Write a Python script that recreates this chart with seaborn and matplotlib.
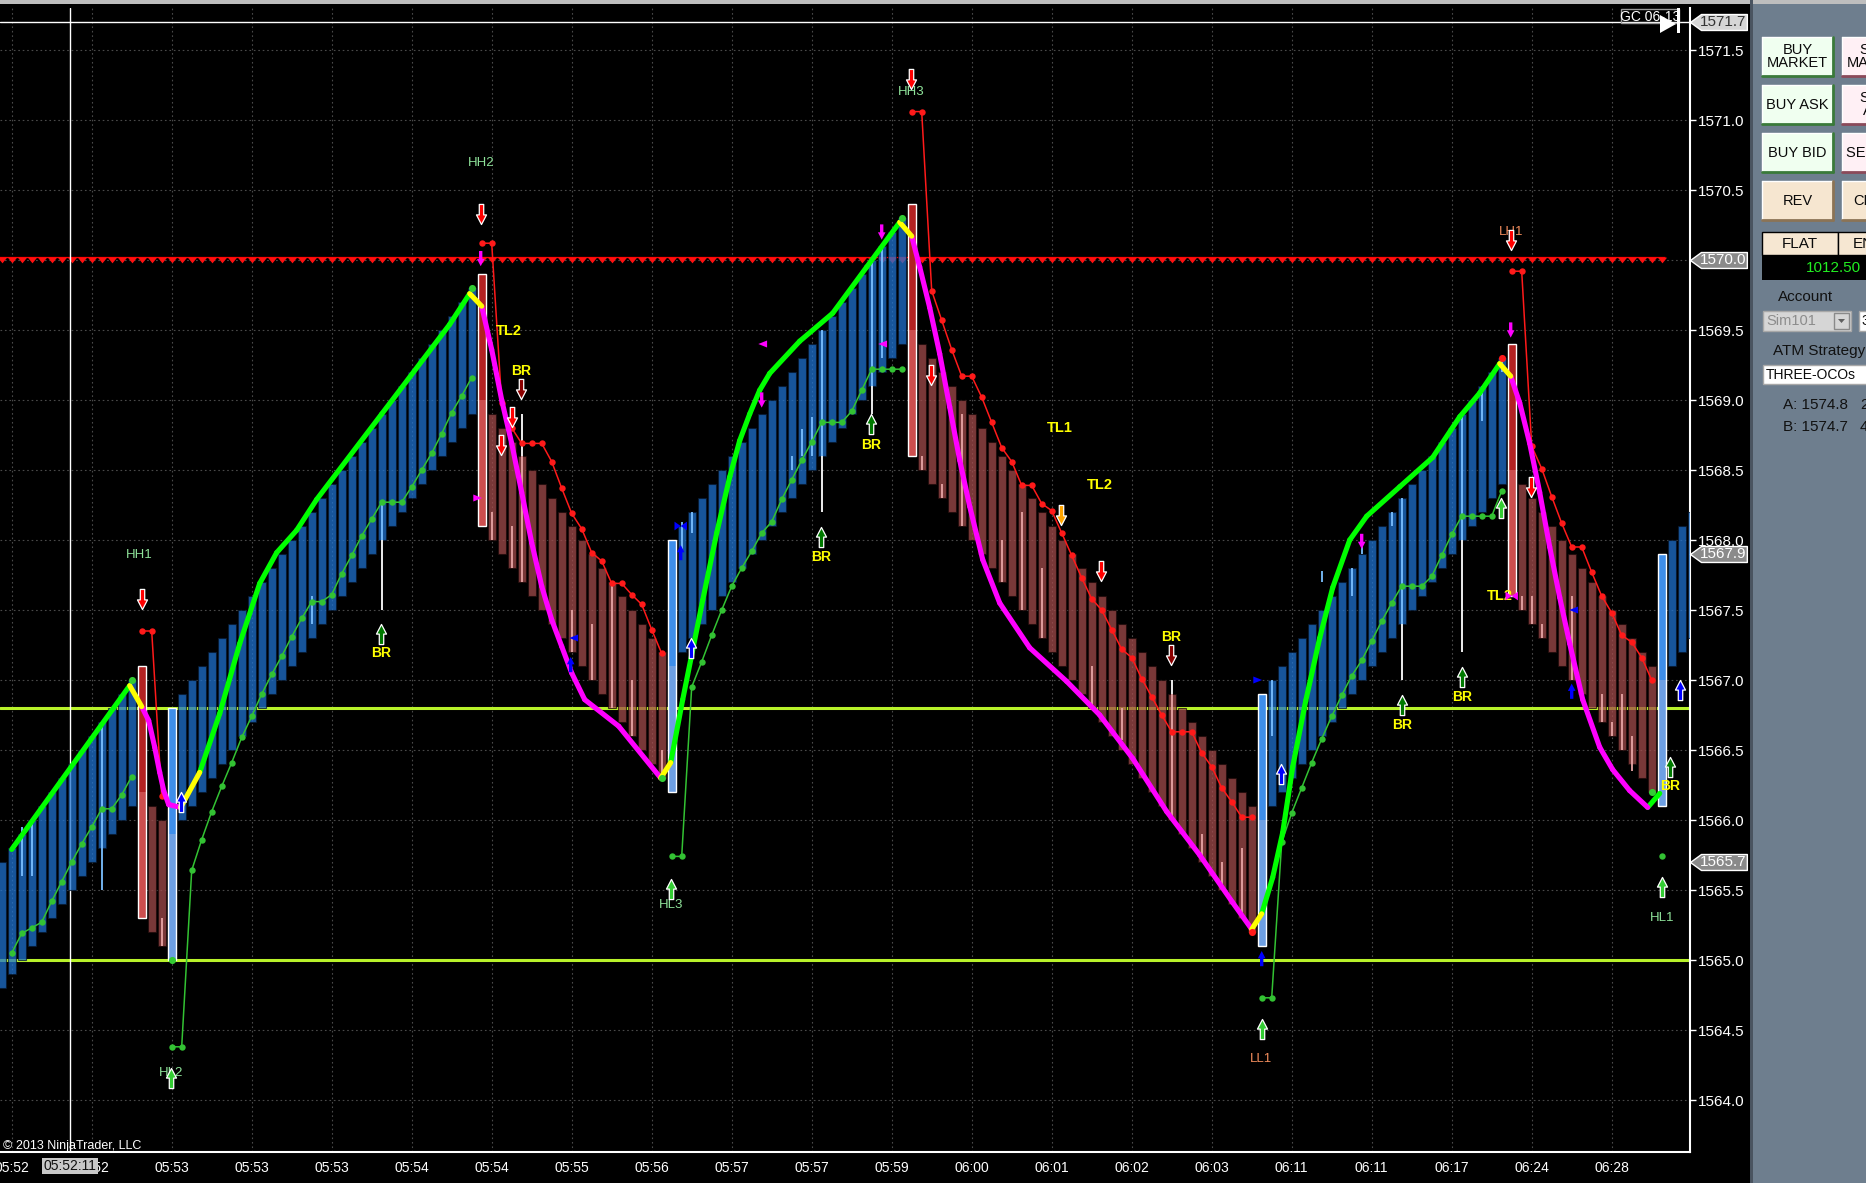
import numpy as np
import pandas as pd
import seaborn as sns
import matplotlib.pyplot as plt
from matplotlib.path import Path
from matplotlib.patches import Rectangle, Polygon
from matplotlib.collections import LineCollection

# ---------------- data ----------------
# range bars (index = bar number from the left edge)
bar_hi = [
    1565.7, 1565.8, 1565.9, 1566.0, 1566.1, 1566.2, 1566.3, 1566.4, 1566.5, 1566.6,
    1566.7, 1566.8, 1566.9, 1567.0, 1567.1, 1566.1, 1566.0, 1566.8, 1566.9, 1567.0,
    1567.1, 1567.2, 1567.3, 1567.4, 1567.5, 1567.6, 1567.7, 1567.8, 1567.9, 1568.0,
    1568.1, 1568.2, 1568.3, 1568.4, 1568.5, 1568.6, 1568.7, 1568.8, 1568.9, 1569.0,
    1569.1, 1569.2, 1569.3, 1569.4, 1569.5, 1569.6, 1569.7, 1569.8, 1569.9, 1568.9,
    1568.8, 1568.7, 1568.6, 1568.5, 1568.4, 1568.3, 1568.2, 1568.1, 1568.0, 1567.9,
    1567.8, 1567.7, 1567.6, 1567.5, 1567.4, 1567.3, 1567.2, 1568.0, 1568.1, 1568.2,
    1568.3, 1568.4, 1568.5, 1568.6, 1568.7, 1568.8, 1568.9, 1569.0, 1569.1, 1569.2,
    1569.3, 1569.4, 1569.5, 1569.6, 1569.7, 1569.8, 1569.9, 1570.0, 1570.1, 1570.2,
    1570.3, 1570.4, 1569.4, 1569.3, 1569.2, 1569.1, 1569.0, 1568.9, 1568.8, 1568.7,
    1568.6, 1568.5, 1568.4, 1568.3, 1568.2, 1568.1, 1568.0, 1567.9, 1567.8, 1567.7,
    1567.6, 1567.5, 1567.4, 1567.3, 1567.2, 1567.1, 1567.0, 1566.9, 1566.8, 1566.7,
    1566.6, 1566.5, 1566.4, 1566.3, 1566.2, 1566.1, 1566.9, 1567.0, 1567.1, 1567.2,
    1567.3, 1567.4, 1567.5, 1567.6, 1567.7, 1567.8, 1567.9, 1568.0, 1568.1, 1568.2,
    1568.3, 1568.4, 1568.5, 1568.6, 1568.7, 1568.8, 1568.9, 1569.0, 1569.1, 1569.2,
    1569.3, 1569.4, 1568.4, 1568.3, 1568.2, 1568.1, 1568.0, 1567.9, 1567.8, 1567.7,
    1567.6, 1567.5, 1567.4, 1567.3, 1567.2, 1567.1, 1567.9, 1568.0, 1568.1, 1568.2,
]
bar_lo = [
    1564.8, 1564.9, 1565.0, 1565.1, 1565.2, 1565.3, 1565.4, 1565.5, 1565.6, 1565.7,
    1565.8, 1565.9, 1566.0, 1566.1, 1565.3, 1565.2, 1565.1, 1565.0, 1566.0, 1566.1,
    1566.2, 1566.3, 1566.4, 1566.5, 1566.6, 1566.7, 1566.8, 1566.9, 1567.0, 1567.1,
    1567.2, 1567.3, 1567.4, 1567.5, 1567.6, 1567.7, 1567.8, 1567.9, 1568.0, 1568.1,
    1568.2, 1568.3, 1568.4, 1568.5, 1568.6, 1568.7, 1568.8, 1568.9, 1568.1, 1568.0,
    1567.9, 1567.8, 1567.7, 1567.6, 1567.5, 1567.4, 1567.3, 1567.2, 1567.1, 1567.0,
    1566.9, 1566.8, 1566.7, 1566.6, 1566.5, 1566.4, 1566.3, 1566.2, 1567.2, 1567.3,
    1567.4, 1567.5, 1567.6, 1567.7, 1567.8, 1567.9, 1568.0, 1568.1, 1568.2, 1568.3,
    1568.4, 1568.5, 1568.6, 1568.7, 1568.8, 1568.9, 1569.0, 1569.1, 1569.2, 1569.3,
    1569.4, 1568.6, 1568.5, 1568.4, 1568.3, 1568.2, 1568.1, 1568.0, 1567.9, 1567.8,
    1567.7, 1567.6, 1567.5, 1567.4, 1567.3, 1567.2, 1567.1, 1567.0, 1566.9, 1566.8,
    1566.7, 1566.6, 1566.5, 1566.4, 1566.3, 1566.2, 1566.1, 1566.0, 1565.9, 1565.8,
    1565.7, 1565.6, 1565.5, 1565.4, 1565.3, 1565.2, 1565.1, 1566.1, 1566.2, 1566.3,
    1566.4, 1566.5, 1566.6, 1566.7, 1566.8, 1566.9, 1567.0, 1567.1, 1567.2, 1567.3,
    1567.4, 1567.5, 1567.6, 1567.7, 1567.8, 1567.9, 1568.0, 1568.1, 1568.2, 1568.3,
    1568.4, 1567.6, 1567.5, 1567.4, 1567.3, 1567.2, 1567.1, 1567.0, 1566.9, 1566.8,
    1566.7, 1566.6, 1566.5, 1566.4, 1566.3, 1566.2, 1566.1, 1567.1, 1567.2, 1567.3,
]
# u/d = normal up/down bar, U/D = reversal bar
bar_dir = ("u" * 14 + "D" + "dd" + "U" + "u" * 30 + "D" + "d" * 18 + "U" + "u" * 23
           + "D" + "d" * 34 + "U" + "u" * 24 + "D" + "d" * 14 + "U" + "uuu")
rev_mid = {14: 1566.2, 17: 1565.9, 48: 1569.0, 67: 1567.1,
           91: 1569.5, 126: 1566.0, 151: 1568.5, 166: 1567.0}

# light lines inside / outside the bars (bar, low, high)
wick_blue = [(2, 1565.6, 1565.95), (3, 1565.6, 1566.0), (10, 1565.5, 1566.7), (31, 1567.4, 1567.6),
             (38, 1568.0, 1568.27), (68, 1567.93, 1568.13), (69, 1568.05, 1568.2), (79, 1568.5, 1568.6),
             (80, 1568.6, 1568.79), (81, 1568.6, 1568.88), (82, 1568.6, 1569.5), (87, 1569.1, 1570.0),
             (88, 1569.3, 1570.1), (127, 1566.6, 1567.0), (132, 1567.7, 1567.78), (135, 1567.6, 1567.8),
             (136, 1567.9, 1568.0), (139, 1568.1, 1568.2), (140, 1567.4, 1568.3), (146, 1568.0, 1568.9),
             (148, 1568.85, 1569.1), (150, 1569.2, 1569.3)]
wick_pink = [(16, 1565.1, 1565.3), (49, 1568.0, 1568.2), (51, 1567.8, 1568.1), (52, 1567.7, 1568.6),
             (57, 1567.2, 1567.5), (59, 1567.0, 1567.4), (61, 1566.8, 1567.7), (63, 1566.6, 1567.0),
             (66, 1566.3, 1566.5), (92, 1568.5, 1568.6), (94, 1568.3, 1568.4), (96, 1568.1, 1568.9),
             (100, 1567.7, 1568.0), (102, 1567.5, 1568.2), (104, 1567.3, 1567.8), (109, 1566.8, 1567.1),
             (112, 1566.57, 1566.8), (117, 1566.0, 1566.9), (120, 1565.75, 1565.9), (122, 1565.5, 1565.7),
             (124, 1565.3, 1565.8), (152, 1567.5, 1567.6), (153, 1567.4, 1567.6), (154, 1567.3, 1567.4),
             (157, 1567.0, 1567.6), (160, 1566.7, 1566.9), (161, 1566.6, 1566.7), (162, 1566.5, 1566.9),
             (163, 1566.35, 1566.6)]
wick_white = [(38, 1567.5, 1568.0), (52, 1568.6, 1568.9), (82, 1568.2, 1568.6), (87, 1568.9, 1569.1),
              (117, 1566.9, 1567.0), (140, 1567.0, 1567.4), (146, 1567.2, 1568.0)]

# trailing stops (first bar of each leg + values per bar)
red_stop_start = [14, 48, 91, 151]
red_stop_1 = [1567.35, 1567.35, 1566.17]
red_stop_2 = [1570.12, 1570.12, 1568.98, 1568.80, 1568.69, 1568.69, 1568.69, 1568.56, 1568.37, 1568.19,
              1568.08, 1567.91, 1567.85, 1567.69, 1567.69, 1567.61, 1567.54, 1567.36, 1567.19]
red_stop_3 = [1571.06, 1571.06, 1569.78, 1569.57, 1569.36, 1569.17, 1569.17, 1569.02, 1568.84, 1568.66,
              1568.56, 1568.39, 1568.39, 1568.26, 1568.21, 1568.05, 1567.89, 1567.73, 1567.58, 1567.50,
              1567.36, 1567.22, 1567.16, 1567.01, 1566.88, 1566.75, 1566.63, 1566.63, 1566.63, 1566.48,
              1566.38, 1566.23, 1566.13, 1566.02, 1566.02]
red_stop_4 = [1569.92, 1569.92, 1568.67, 1568.51, 1568.31, 1568.12, 1567.95, 1567.95, 1567.77, 1567.60,
              1567.48, 1567.32, 1567.27, 1567.16, 1567.00]
green_stop_start = [1, 17, 67, 126, 166]
green_stop_1 = [1565.05, 1565.19, 1565.23, 1565.27, 1565.42, 1565.56, 1565.70, 1565.83, 1565.95, 1566.08,
                1566.08, 1566.18, 1566.31]
green_stop_2 = [1564.38, 1564.38, 1565.64, 1565.86, 1566.06, 1566.24, 1566.41, 1566.59, 1566.74, 1566.90,
                1567.04, 1567.17, 1567.31, 1567.44, 1567.56, 1567.56, 1567.61, 1567.76, 1567.89, 1568.03,
                1568.15, 1568.27, 1568.27, 1568.27, 1568.38, 1568.50, 1568.62, 1568.76, 1568.91, 1569.03,
                1569.16]
green_stop_3 = [1565.74, 1565.74, 1566.95, 1567.13, 1567.32, 1567.50, 1567.67, 1567.80, 1567.92, 1568.05,
                1568.13, 1568.29, 1568.43, 1568.57, 1568.70, 1568.84, 1568.84, 1568.84, 1568.92, 1569.07,
                1569.22, 1569.22, 1569.22, 1569.22]
green_stop_4 = [1564.73, 1564.73, 1565.84, 1566.05, 1566.23, 1566.41, 1566.58, 1566.74, 1566.89, 1567.03,
                1567.14, 1567.28, 1567.42, 1567.55, 1567.67, 1567.67, 1567.67, 1567.74, 1567.89, 1568.04,
                1568.17, 1568.17, 1568.17, 1568.17, 1568.35]
green_stop_5 = [1565.74]

# swing-point dots
green_dot_x = [13, 17, 47, 66, 90, 165]
green_dot_y = [1567.0, 1565.0, 1569.8, 1566.3, 1570.3, 1566.2]
red_dot_x = [125, 150]
red_dot_y = [1565.2, 1569.3]

# smoothed trend line: knots and trend of each piece (g up, m down, y turn)
ma_x = [1, 12.8, 14.0, 14.7, 15.3, 15.8, 16.2, 16.7, 17.9, 19.8, 21.8, 23.8, 25.8, 27.5, 29.5, 31.5,
        38.0, 44.8, 46.8, 48.0, 49, 50, 51, 52, 53, 54, 55, 56, 57, 58.3, 61.7, 65.9, 66.9, 68.1,
        70.1, 71.5, 72.8, 73.8, 74.8, 75.8, 76.8, 79.8, 83.1, 86.5, 89.8, 91.0, 91.8, 92.8, 93.8,
        94.8, 95.8, 96.8, 98.1, 99.8, 102.8, 106.5, 109.8, 113.1, 116.5, 119.8, 123.1, 125.0, 126.0,
        127.1, 128.1, 129.1, 130.4, 131.8, 133.1, 134.8, 136.5, 139.8, 143.1, 145.8, 147.8, 149.8,
        150.9, 151.8, 152.8, 153.8, 154.8, 155.8, 156.8, 158.1, 159.8, 161.1, 162.8, 164.6, 165.8]
ma_y = [1565.79, 1566.96, 1566.81, 1566.71, 1566.52, 1566.34, 1566.21, 1566.11, 1566.09, 1566.34,
        1566.76, 1567.26, 1567.69, 1567.91, 1568.07, 1568.29, 1568.90, 1569.54, 1569.76, 1569.67,
        1569.36, 1569.00, 1568.69, 1568.34, 1567.98, 1567.67, 1567.43, 1567.24, 1567.05, 1566.86,
        1566.67, 1566.30, 1566.41, 1566.86, 1567.57, 1568.05, 1568.45, 1568.71, 1568.90, 1569.07,
        1569.19, 1569.42, 1569.62, 1569.95, 1570.27, 1570.17, 1569.95, 1569.66, 1569.33, 1568.95,
        1568.57, 1568.24, 1567.86, 1567.55, 1567.23, 1566.99, 1566.75, 1566.44, 1566.06, 1565.75,
        1565.41, 1565.22, 1565.33, 1565.59, 1565.91, 1566.38, 1566.85, 1567.30, 1567.66, 1568.00,
        1568.17, 1568.38, 1568.59, 1568.88, 1569.05, 1569.26, 1569.17, 1568.98, 1568.69, 1568.34,
        1567.95, 1567.59, 1567.26, 1566.86, 1566.52, 1566.36, 1566.21, 1566.09, 1566.19]
ma_trend = ("g" + "y" + "m" * 6 + "y" + "g" * 9 + "y" + "m" * 12 + "y" + "g" * 12 + "y"
            + "m" * 16 + "y" + "g" * 13 + "y" + "m" * 11 + "g")

# horizontal levels
support_levels = [1566.8, 1565.0]
resist_level = 1570.0
last_price = 1571.7
cursor_bar = 6.85

# signal arrows (bar, price) by kind
arrows = {
    "dn_red": [(14.0, 1567.58), (47.9, 1570.33), (51.0, 1568.88), (49.9, 1568.68), (90.9, 1571.29),
               (92.9, 1569.18), (109.9, 1567.78), (150.9, 1570.14), (152.9, 1568.38)],
    "dn_dkred": [(51.9, 1569.08), (116.9, 1567.18)],
    "dn_orange": [(105.9, 1568.18)],
    "dn_mag": [(47.9, 1570.01), (76.0, 1569.0), (88.0, 1570.2), (136.0, 1567.99), (150.9, 1569.5)],
    "up_dkgreen": [(37.9, 1567.33), (81.9, 1568.02), (86.9, 1568.83), (140.0, 1566.82),
                   (146.0, 1567.02), (166.8, 1566.38)],
    "up_green": [(16.9, 1564.16), (66.9, 1565.51), (126.0, 1564.51), (149.9, 1568.23), (166.0, 1565.52)],
    "up_blue_o": [(17.9, 1566.13), (68.9, 1567.23), (127.9, 1566.33), (167.8, 1566.93)],
    "up_blue": [(67.9, 1567.91), (56.9, 1567.11), (126.0, 1565.01), (157.0, 1566.92)],
    "tri_l_blue": [(57.2, 1567.3), (157.2, 1567.5)],
    "tri_r_blue": [(125.6, 1567.0)],
    "tri_l_mag": [(76.1, 1569.4), (88.1, 1569.4)],
    "tri_r_mag": [(47.6, 1568.3)],
    "bow_blue": [(67.9, 1568.1)],
    "bow_mag": [(151.0, 1567.6)],
}
swing_labels = [("HH1", 13.8, 1567.89), ("HL2", 16.9, 1564.19), ("HH2", 47.9, 1570.69),
                ("HL3", 66.9, 1565.39), ("HH3", 90.9, 1571.20), ("LL1", 125.9, 1564.29),
                ("LH1", 150.9, 1570.20), ("HL1", 166.0, 1565.30)]
tl_labels = [("TL2", 50.7, 1569.49), ("TL1", 105.8, 1568.80), ("TL2", 109.8, 1568.39), ("TL2", 149.8, 1567.60)]
br_labels = [(37.9, 1567.19), (51.9, 1569.21), (81.9, 1567.88), (86.9, 1568.68), (116.9, 1567.31),
             (140.0, 1566.68), (146.0, 1566.88), (166.8, 1566.24)]

time_ticks = [1, 9, 17, 25, 33, 41, 49, 57, 65, 73, 81, 89, 97, 105, 113, 121, 129, 137, 145, 153, 161]
time_labels = ["05:52", "05:52", "05:53", "05:53", "05:53", "05:54", "05:54", "05:55", "05:56", "05:57",
               "05:57", "05:59", "06:00", "06:01", "06:02", "06:03", "06:11", "06:11", "06:17", "06:24",
               "06:28"]
price_tags = [1571.7, 1570.0, 1567.9, 1565.7]

# ---------------- style ----------------
sns.set_theme(style="dark", rc={"axes.facecolor": "black", "figure.facecolor": "black",
                                "axes.edgecolor": "white", "text.color": "white",
                                "xtick.color": "white", "ytick.color": "white"})
NARROW = ["Liberation Sans Narrow", "Liberation Sans", "DejaVu Sans"]
plt.rcParams["font.family"] = NARROW

W, H = 1866, 1183
fig = plt.figure(figsize=(W / 100, H / 100), dpi=100, facecolor="black")
ax = fig.add_axes([0, 31 / H, 1690 / W, 1144 / H])
ax.set_facecolor("black")

hi = np.array(bar_hi)
lo = np.array(bar_lo)
dirs = np.array(list(bar_dir))
idx = np.arange(len(hi))

# levels
for lvl in support_levels:
    ax.axhline(lvl, color="#B8F22A", lw=2.2, zorder=2)
ax.axhline(last_price, color="white", lw=1.0, zorder=2)
ax.axvline(cursor_bar, color="white", lw=1.0, zorder=2.5)
tri_path = Path([(-0.5, 0.2), (0.5, 0.2), (0, -0.42), (-0.5, 0.2)],
                [Path.MOVETO, Path.LINETO, Path.LINETO, Path.CLOSEPOLY])
tri_bars = idx[idx <= 166]
ax.hlines(resist_level + 0.025, tri_bars[0] - 0.3, tri_bars[-1] + 0.3, color="red", lw=0.9, zorder=2)
ax.scatter(tri_bars, np.full(len(tri_bars), resist_level + 0.005), marker=tri_path, s=44,
           color="#FF1010", linewidths=0, zorder=2)

# normal bars (slightly transparent so the levels show through)
up = dirs == "u"
dn = dirs == "d"
ax.bar(idx[up], (hi - lo)[up], bottom=lo[up], width=0.8, color="#2073D0", alpha=0.75,
       edgecolor="#06182e", linewidth=0.8, zorder=3)
ax.bar(idx[dn], (hi - lo)[dn], bottom=lo[dn], width=0.8, color="#A34B4B", alpha=0.75,
       edgecolor="#1e0a0a", linewidth=0.8, zorder=3)

for lst, col in [(wick_blue, "#7CC0FF"), (wick_pink, "#E8A6A6"), (wick_white, "#FFFFFF")]:
    ax.vlines([w[0] for w in lst], [w[1] for w in lst], [w[2] for w in lst],
              colors=col, linewidth=1.3, zorder=3.5)

# reversal bars
for i, mid in rev_mid.items():
    if dirs[i] == "D":
        c_top, c_bot = "#B22222", "#CC4E4E"
    else:
        c_top, c_bot = "#3E8EEA", "#6D9FE3"
    ax.bar(i, hi[i] - mid, bottom=mid, width=0.8, color=c_top, linewidth=0, zorder=3.6)
    ax.bar(i, mid - lo[i], bottom=lo[i], width=0.8, color=c_bot, linewidth=0, zorder=3.6)
    ax.bar(i, hi[i] - lo[i], bottom=lo[i], width=0.8, fill=False, edgecolor="white",
           linewidth=1.0, zorder=3.7)


# trailing stops
def stop_frame(starts, legs):
    rows = []
    for n, (s, vals) in enumerate(zip(starts, legs)):
        for k, v in enumerate(vals):
            rows.append({"bar": s + k, "price": v, "seg": n})
    return pd.DataFrame(rows)


red_df = stop_frame(red_stop_start, [red_stop_1, red_stop_2, red_stop_3, red_stop_4])
green_df = stop_frame(green_stop_start, [green_stop_1, green_stop_2, green_stop_3, green_stop_4, green_stop_5])
sns.lineplot(data=red_df, x="bar", y="price", units="seg", estimator=None, sort=False,
             color="#FF1A1A", linewidth=1.1, marker="o", markersize=4.6, markeredgewidth=0,
             ax=ax, zorder=4)
sns.lineplot(data=green_df, x="bar", y="price", units="seg", estimator=None, sort=False,
             color="#33C233", linewidth=1.1, marker="o", markersize=4.6, markeredgewidth=0,
             ax=ax, zorder=4)

# smoothed trend line
pts = np.column_stack([ma_x, ma_y])
segs = np.stack([pts[:-1], pts[1:]], axis=1)
trend_col = {"g": "#00FF00", "m": "#FF00FF", "y": "#FFFF00"}
codes = np.array(list(ma_trend))
for code in ["g", "m", "y"]:
    sel = codes == code
    ax.add_collection(LineCollection(segs[sel], colors=trend_col[code], linewidths=3.7,
                                     capstyle="round", joinstyle="round", zorder=5 if code != "y" else 5.1))

sns.scatterplot(x=green_dot_x, y=green_dot_y, color="#33CC33", s=26, linewidth=0, ax=ax, zorder=6)
sns.scatterplot(x=red_dot_x, y=red_dot_y, color="#FF1A1A", s=26, linewidth=0, ax=ax, zorder=6)


# arrows and small markers
def mk(verts):
    return Path(verts + [verts[0]], [Path.MOVETO] + [Path.LINETO] * (len(verts) - 1) + [Path.CLOSEPOLY])


up_v = [(-0.11, -0.5), (0.11, -0.5), (0.11, 0.02), (0.25, 0.02), (0, 0.5), (-0.25, 0.02), (-0.11, 0.02)]
UP = mk(up_v)
DN = mk([(x, -y) for x, y in up_v])
TL = mk([(0.5, 0.4), (0.5, -0.4), (-0.5, 0)])
TR = mk([(-0.5, 0.4), (-0.5, -0.4), (0.5, 0)])
BOW = Path([(-0.5, 0.35), (0, 0), (-0.5, -0.35), (-0.5, 0.35), (0.5, 0.35), (0, 0), (0.5, -0.35), (0.5, 0.35)],
           [Path.MOVETO, Path.LINETO, Path.LINETO, Path.CLOSEPOLY] * 2)
styles = {
    "dn_red": (DN, "#FF0000", "white", 210),
    "dn_dkred": (DN, "#8B0000", "white", 210),
    "dn_orange": (DN, "#FFA500", "white", 210),
    "dn_mag": (DN, "#FF00FF", "none", 120),
    "up_dkgreen": (UP, "#007A00", "white", 210),
    "up_green": (UP, "#33CC33", "white", 210),
    "up_blue_o": (UP, "#0000FF", "white", 210),
    "up_blue": (UP, "#0000FF", "none", 120),
    "tri_l_blue": (TL, "#0000FF", "none", 40),
    "tri_r_blue": (TR, "#0000FF", "none", 40),
    "tri_l_mag": (TL, "#FF00FF", "none", 40),
    "tri_r_mag": (TR, "#FF00FF", "none", 40),
    "bow_blue": (BOW, "#0000FF", "none", 80),
    "bow_mag": (BOW, "#FF00FF", "none", 80),
}
for kind, pos in arrows.items():
    path, fc, ec, s = styles[kind]
    ax.scatter([p[0] for p in pos], [p[1] for p in pos], marker=path, s=s, facecolor=fc,
               edgecolor=ec, linewidths=0.9, zorder=7)

for txt, x, y in swing_labels:
    col = "#F28C5C" if txt.startswith("L") else "#8FE39A"
    ax.text(x, y, txt, ha="center", va="center", fontsize=9.5, color=col, zorder=6.5)
for txt, x, y in tl_labels:
    ax.text(x, y, txt, ha="center", va="center", fontsize=10.5, color="#FFFF00",
            fontweight="bold", zorder=6.5)
for x, y in br_labels:
    ax.text(x, y, "BR", ha="center", va="center", fontsize=10, color="#FFFF00",
            fontweight="bold", zorder=6.5)

# axes, ticks, grid
ax.set_xlim(-0.17, 168.83)
ax.set_ylim(1563.6286, 1571.8)
ax.set_xlabel("")
ax.set_ylabel("")
for side in ["left", "top"]:
    ax.spines[side].set_visible(False)
for side in ["bottom", "right"]:
    ax.spines[side].set_color("white")
    ax.spines[side].set_linewidth(1.5)
ax.set_xticks(time_ticks)
ax.set_xticklabels(time_labels, fontsize=10, color="#EEF3FF", family=NARROW)
price_ticks = np.arange(1564.0, 1571.51, 0.5)
ax.yaxis.tick_right()
ax.set_yticks(price_ticks)
ax.set_yticklabels([f"{p:.1f}" for p in price_ticks], fontsize=11, color="white", family=NARROW)
ax.tick_params(axis="x", colors="white", length=3.6, width=1, pad=3.2, direction="out")
ax.tick_params(axis="y", colors="white", length=4.3, width=1, pad=1.2, direction="out")
ax.grid(True, color="#4a4a4a", linestyle=(0, (1.5, 2.5)), linewidth=0.8)
ax.set_axisbelow(True)

# price tags on the axis
tag_v = [(0, 0), (11, 8), (57, 8), (57, -8), (11, -8)]
TAG = mk(tag_v)
for k, p in enumerate(price_tags):
    light = k == 0
    ax.scatter([1.0], [p], transform=ax.get_yaxis_transform(), marker=TAG, s=6700,
               facecolor="#D6D6D6" if light else "#8A8A8A", edgecolor="white", linewidths=1,
               clip_on=False, zorder=8)
    ax.annotate(f"{p:.1f}", xy=(1.0, p), xycoords=ax.get_yaxis_transform(), xytext=(24, 0),
                textcoords="offset points", ha="center", va="center", fontsize=11,
                color="#333333" if light else "white", zorder=9, annotation_clip=False)
ax.set_xlim(-0.17, 168.83)
ax.set_ylim(1563.6286, 1571.8)

# ---------------- overlay: chart decorations and trade panel (pixel coords) ----------------
ov = fig.add_axes([0, 0, 1, 1], zorder=10)
ov.set_xlim(0, W)
ov.set_ylim(H, 0)
ov.axis("off")
ov.patch.set_alpha(0)

ov.add_patch(Rectangle((0, 0), W, 3.5, fc="#BEBEBE", ec="none"))
ov.add_patch(Rectangle((1621, 9), 58, 14, fill=False, ec="#9A9A9A", lw=1))
ov.text(1650, 16.5, "GC 06-13", ha="center", va="center", fontsize=10, color="white")
ov.add_patch(Polygon([(1660, 15), (1660, 33), (1676, 24)], closed=True, fc="white", ec="none"))
ov.add_patch(Rectangle((1677, 8), 2.5, 25, fc="white", ec="none"))
ov.add_patch(Rectangle((41.7, 1158), 56.5, 15.5, fc="#C8C8C8", ec="none"))
ov.text(70, 1166, "05:52:11", ha="center", va="center", fontsize=10, color="#111111")
ov.text(3, 1146, "\u00a9 2013 NinjaTrader, LLC", ha="left", va="center", fontsize=9, color="white")

# trade panel
ov.add_patch(Rectangle((1752, 3.5), W - 1752, H, fc="#6E7E8E", ec="none"))
ov.add_patch(Rectangle((1750, 0), 3, H, fc="#4A5460", ec="none"))


def button(x0, y0, x1, y1, fc, dark, label, fs=10.5):
    ov.add_patch(Rectangle((x0, y0), x1 - x0, y1 - y0, fc=fc, ec="none"))
    ov.plot([x0, x1], [y0, y0], color="white", lw=1)
    ov.plot([x0, x0], [y0, y1], color="white", lw=1)
    ov.plot([x0, x1], [y1, y1], color=dark, lw=2)
    ov.plot([x1, x1], [y0, y1], color=dark, lw=2)
    ov.text((x0 + x1) / 2, (y0 + y1) / 2, label, ha="center", va="center", fontsize=fs,
            color="#0A0A0A", linespacing=0.95)


rows = [(37, 76), (85, 124), (133, 172), (181, 220)]
left_lbl = ["BUY\nMARKET", "BUY ASK", "BUY BID", "REV"]
right_lbl = ["SELL\nMARKET", "SELL\nASK", "SELL BID", "CLOSE"]
for k, (y0, y1) in enumerate(rows):
    if k < 3:
        button(1762, y0, 1833, y1, "#F0FFF0", "#3A7A3A", left_lbl[k])
        button(1842, y0, 1913, y1, "#FFF0F5", "#8B4A5A", right_lbl[k])
    else:
        button(1762, y0, 1833, y1, "#F6E6D0", "#8B7355", left_lbl[k])
        button(1842, y0, 1913, y1, "#F6E6D0", "#8B7355", right_lbl[k])

ov.add_patch(Rectangle((1762, 232), 76, 23, fc="#F6E7D2", ec="black", lw=1))
ov.add_patch(Rectangle((1838, 232), 40, 23, fc="#F6E7D2", ec="black", lw=1))
ov.text(1800, 243.5, "FLAT", ha="center", va="center", fontsize=11, color="#0A0A0A")
ov.text(1853, 243.5, "EN", ha="left", va="center", fontsize=11, color="#0A0A0A")
ov.add_patch(Rectangle((1762, 255), 110, 25, fc="black", ec="none"))
ov.text(1861, 267.5, "1012.50", ha="right", va="center", fontsize=11, color="#22EE22")
ov.text(1806, 297, "Account", ha="center", va="center", fontsize=11, color="#111111")
ov.add_patch(Rectangle((1763, 311), 88, 20, fc="#D6D6D6", ec="#A8A8A8", lw=1))
ov.text(1766, 321, "Sim101", ha="left", va="center", fontsize=10.5, color="#8C8C8C")
ov.add_patch(Rectangle((1834, 313), 15, 16, fc="#D6D6D6", ec="#8A8A8A", lw=1))
ov.add_patch(Polygon([(1838, 319), (1845, 319), (1841.5, 323)], closed=True, fc="#606060", ec="none"))
ov.add_patch(Rectangle((1859, 311), 12, 20, fc="white", ec="#A8A8A8", lw=1))
ov.text(1861, 321, "3", ha="left", va="center", fontsize=10.5, color="#111111")
ov.text(1819, 351, "ATM Strategy", ha="center", va="center", fontsize=11, color="#111111")
ov.add_patch(Rectangle((1763, 365), 110, 19, fc="white", ec="#A8A8A8", lw=1))
ov.text(1766, 374.5, "THREE-OCOs", ha="left", va="center", fontsize=10, color="#0A0A0A")
ov.text(1783, 405, "A: 1574.8", ha="left", va="center", fontsize=11, color="#111111")
ov.text(1783, 427, "B: 1574.7", ha="left", va="center", fontsize=11, color="#111111")
ov.text(1860, 405, "2", ha="left", va="center", fontsize=11, color="#111111")
ov.text(1860, 427, "4", ha="left", va="center", fontsize=11, color="#111111")

fig.savefig("out.png", dpi=100, facecolor="black")
